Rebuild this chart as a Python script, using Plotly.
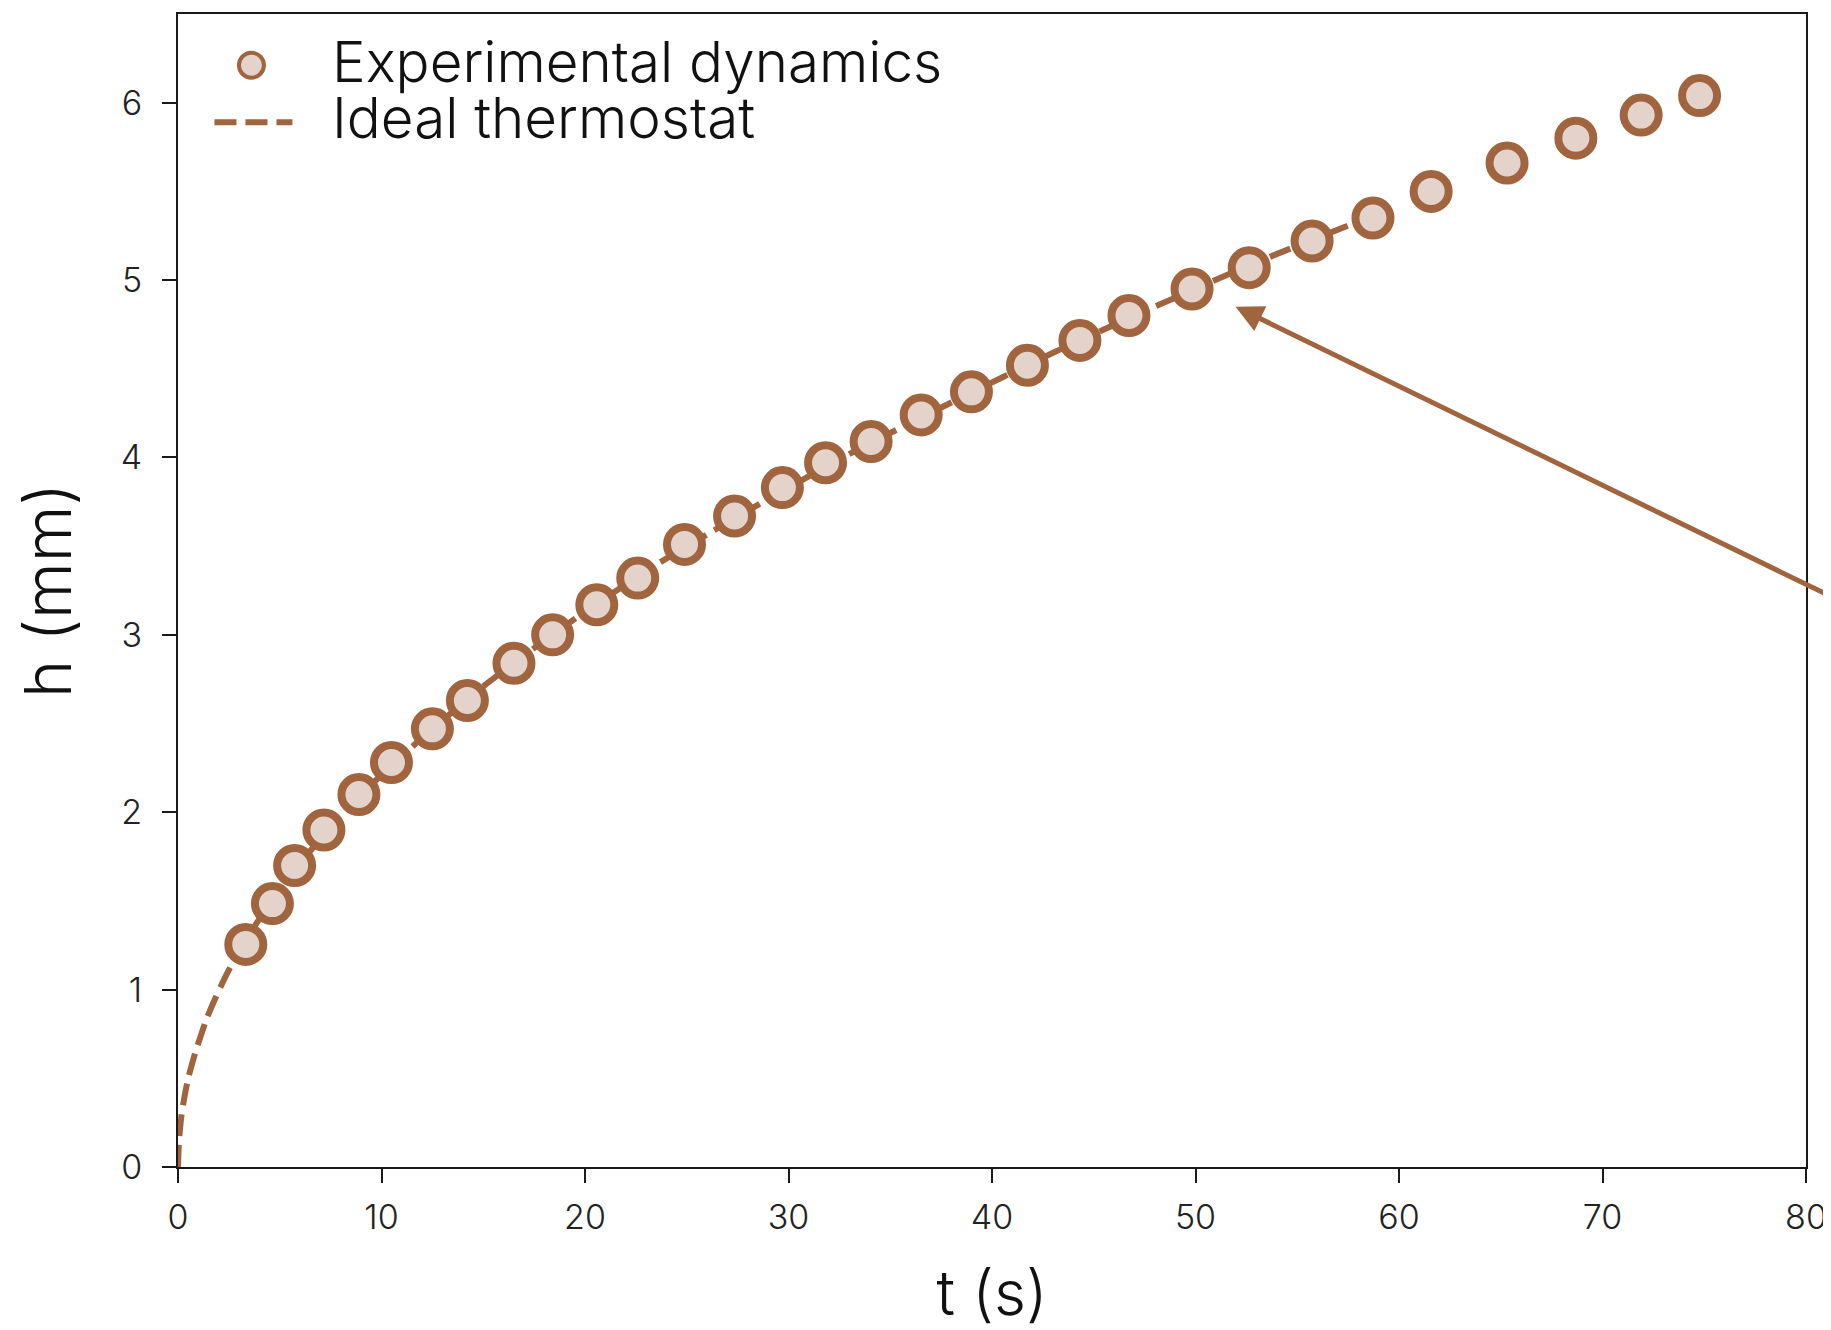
import plotly.graph_objects as go

# ---- data ----
t_exp = [3.33, 4.64, 5.73, 7.17, 8.89, 10.49, 12.50, 14.22, 16.51, 18.41,
         20.58, 22.59, 24.89, 27.35, 29.70, 31.82, 34.06, 36.52, 38.99, 41.74,
         44.32, 46.73, 49.83, 52.64, 55.73, 58.72, 61.58, 65.31, 68.69, 71.90, 74.77]
h_exp = [1.255, 1.485, 1.70, 1.90, 2.10, 2.28, 2.47, 2.63, 2.84, 3.00,
         3.17, 3.32, 3.51, 3.67, 3.83, 3.97, 4.09, 4.24, 4.37, 4.52,
         4.66, 4.80, 4.95, 5.07, 5.22, 5.35, 5.50, 5.66, 5.80, 5.93, 6.04]

t_ideal = [0.0, 0.05, 0.17, 0.34, 0.50, 0.76, 1.09, 1.42, 1.83, 2.32, 2.73, 3.5,
           5.0, 7.0, 9.0, 12.0, 15.0, 19.0, 23.0, 28.0, 33.0, 38.0, 43.0, 48.0, 53.0, 58.0]
h_ideal = [0.0, 0.15, 0.29, 0.41, 0.50, 0.61, 0.73, 0.84, 0.95, 1.07, 1.16, 1.31,
           1.57, 1.85, 2.10, 2.42, 2.71, 3.05, 3.36, 3.70, 4.02, 4.31, 4.59, 4.85, 5.10, 5.33]

x_ticks = [0, 10, 20, 30, 40, 50, 60, 70, 80]
y_ticks = [0, 1, 2, 3, 4, 5, 6]

legend_labels = ["Experimental dynamics", "Ideal thermostat"]

BROWN = "#A0653F"
FILL = "#E3D3CA"
AXC = "#1a1a1a"
FONT = "Inter"

fig = go.Figure()

fig.add_trace(go.Scatter(
    x=t_ideal, y=h_ideal, mode="lines", name=legend_labels[1],
    line=dict(color=BROWN, width=6, dash="22px,9px", shape="spline", smoothing=0.6),
    showlegend=False,
))
fig.add_trace(go.Scatter(
    x=t_exp, y=h_exp, mode="markers", name=legend_labels[0],
    marker=dict(size=35, color=FILL, line=dict(color=BROWN, width=8)),
    showlegend=False,
))

# custom legend (symbols + text)
fig.add_shape(type="circle", xref="paper", yref="paper", xsizemode="pixel", ysizemode="pixel",
              xanchor=0.0451, yanchor=0.9556, x0=-12.5, x1=12.5, y0=-12.5, y1=12.5,
              line=dict(color=BROWN, width=4), fillcolor=FILL)
fig.add_shape(type="line", xref="paper", yref="paper", x0=0.0224, x1=0.0703, y0=0.9062, y1=0.9062,
              line=dict(color=BROWN, width=6, dash="22px,9px"))
for lbl, yy in zip(legend_labels, [0.9586, 0.9102]):
    fig.add_annotation(text=lbl, xref="paper", yref="paper", x=0.0933, y=yy,
                       xanchor="left", yanchor="middle", showarrow=False,
                       font=dict(family=FONT, size=56.5, color="#111111", weight=300))

# arrow
fig.add_annotation(x=51.97, y=4.85, ax=86, ay=2.95, xref="x", yref="y", axref="x", ayref="y",
                   text="", showarrow=True, arrowhead=2, arrowsize=1.1, arrowwidth=5,
                   arrowcolor=BROWN)

axis_common = dict(
    showgrid=False, zeroline=False, showline=True, mirror=True,
    linecolor=AXC, linewidth=2, ticks="outside", ticklen=14, tickwidth=2, tickcolor=AXC,
    tickfont=dict(family=FONT, size=34, color="#222222", weight=300),
)

# page body has an 8px default margin: compensate so the plot sits where the reference has it
fig.update_layout(
    width=1823, height=1322,
    margin=dict(l=170, r=25, t=4, b=163),
    paper_bgcolor="white", plot_bgcolor="white",
    xaxis=dict(range=[0, 80], tickvals=x_ticks, ticklabelstandoff=5,
               title=dict(text="t (s)", font=dict(family=FONT, size=62, color="#111111", weight=300),
                          standoff=39),
               **axis_common),
    yaxis=dict(range=[0, 6.5], tickvals=y_ticks, ticklabelstandoff=13,
               title=dict(text="h (mm)", font=dict(family=FONT, size=65, color="#111111", weight=300),
                          standoff=36),
               **axis_common),
)

fig.write_html("out.html")
